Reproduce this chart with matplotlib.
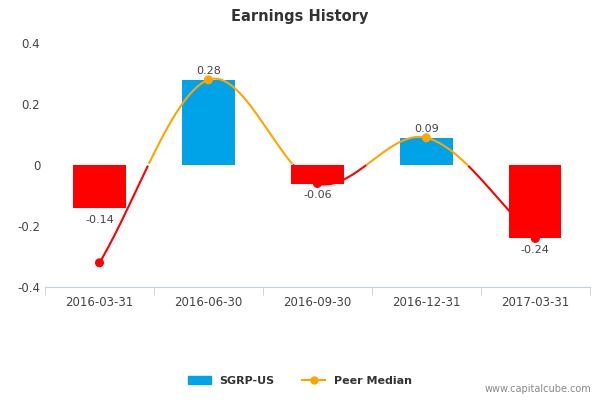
import numpy as np
import matplotlib
matplotlib.use("Agg")
import matplotlib.pyplot as plt
from matplotlib.lines import Line2D
from matplotlib.patches import Patch

categories = ["2016-03-31", "2016-06-30", "2016-09-30", "2016-12-31", "2017-03-31"]
eps = [-0.14, 0.28, -0.06, 0.09, -0.24]
peer = [-0.32, 0.28, -0.06, 0.09, -0.24]
yticks = [-0.4, -0.2, 0, 0.2, 0.4]

fig = plt.figure(figsize=(6, 4), dpi=100)
ax = fig.add_axes([0.075, 0.282, 0.908, 0.61])
x = np.arange(len(categories))
cols = ["#ff0000" if v < 0 else "#00a2e8" for v in eps]
ax.bar(x, eps, width=0.48, color=cols, zorder=2)
for xi, v in zip(x, eps):
    ax.text(xi, v + (0.012 if v >= 0 else -0.022), f"{v:.2f}", ha="center",
            va="bottom" if v >= 0 else "top", fontsize=8, color="#444444", zorder=5)

p = np.array(peer, float)
pts = np.concatenate([[2*p[0]-p[1]], p, [2*p[-1]-p[-2]]])
xs, ys = [], []
for i in range(len(p)-1):
    t = np.linspace(0, 1, 60)
    p0, p1, p2, p3 = pts[i], pts[i+1], pts[i+2], pts[i+3]
    y = 0.5*((2*p1) + (-p0+p2)*t + (2*p0-5*p1+4*p2-p3)*t**2 + (-p0+3*p1-3*p2+p3)*t**3)
    xs.append(i + t); ys.append(y)
xs = np.concatenate(xs); ys = np.concatenate(ys)
ax.plot(xs, np.where(ys >= 0, ys, np.nan), color="#ffa500", lw=1.5, zorder=3)
ax.plot(xs, np.where(ys <= 0.002, ys, np.nan), color="#ff0000", lw=1.5, zorder=3)
pc = ["#ff0000" if v < 0 else "#ffa500" for v in peer]
ax.scatter(x, peer, color=pc, s=30, zorder=4)

ax.set_xlim(-0.5, 4.5)
ax.set_ylim(-0.4, 0.4)
ax.set_yticks(yticks)
ax.set_yticklabels(["-0.4", "-0.2", "0", "0.2", "0.4"])
ax.set_xticks(x)
ax.set_xticks(np.arange(-0.5, 5, 1), minor=True)
ax.tick_params(axis="x", which="major", length=0, labelsize=8.5, colors="#444444", pad=6)
ax.tick_params(axis="x", which="minor", length=6, color="#c0d0e0")
ax.tick_params(axis="y", length=0, labelsize=8.5, colors="#444444")
ax.set_xticklabels(categories)
for lab in ax.get_xticklabels():
    lab.set_rotation(45)
    lab.set_ha("right")
    lab.set_rotation_mode("anchor")
for s in ["top", "right", "left"]:
    ax.spines[s].set_visible(False)
ax.spines["bottom"].set_color("#c0d0e0")
ax.spines["bottom"].set_position(("data", -0.4))

fig.text(0.5, 0.958, "Earnings History", ha="center", va="center", fontsize=10.5,
         fontweight="bold", color="#333333")
handles = [Patch(color="#00a2e8", label="SGRP-US"),
           Line2D([0], [0], color="#ffa500", marker="o", markersize=5, lw=1.5, label="Peer Median")]
fig.legend(handles=handles, loc="center", bbox_to_anchor=(0.5, 0.048), ncol=2, frameon=False,
           prop={"size": 8, "weight": "bold"}, labelcolor="#333333", handlelength=2, columnspacing=2.5)
fig.text(0.985, 0.015, "www.capitalcube.com", ha="right", va="bottom", fontsize=7, color="#888888")
fig.savefig("out.png", dpi=100)
